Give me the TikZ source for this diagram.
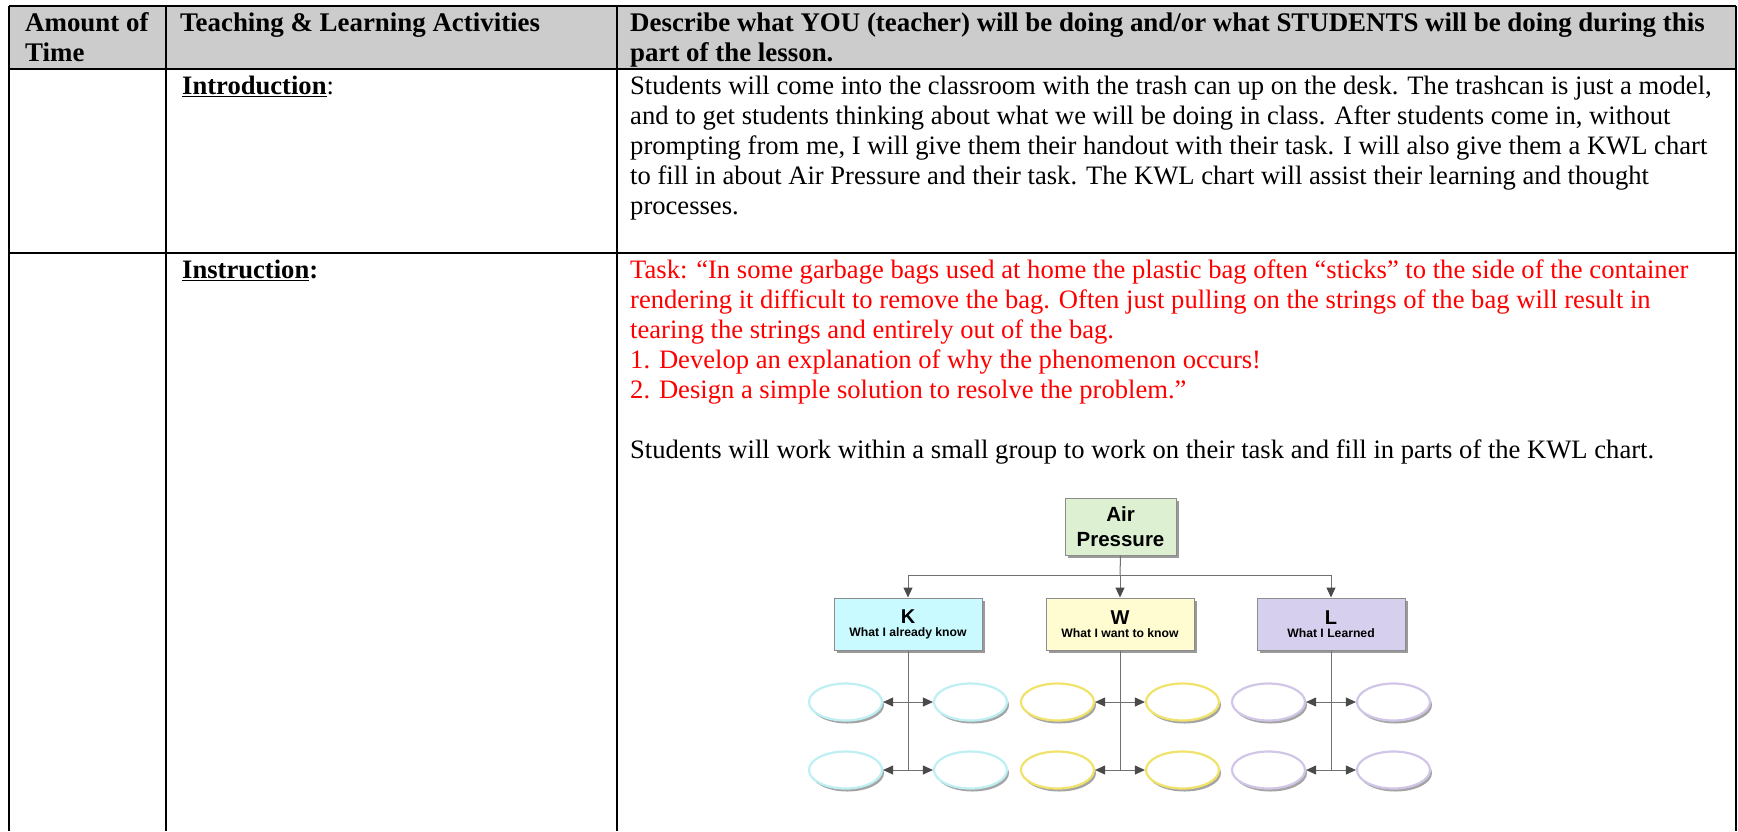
\documentclass[tikz,border=0pt]{standalone}
\usepackage{fontspec}
\setmainfont{Liberation Serif}[Ligatures=CommonOff]
\newfontfamily\diagfont{Liberation Sans}
\usetikzlibrary{arrows.meta,shapes.geometric,shadows}

\definecolor{headgrey}{HTML}{CCCCCC}
\definecolor{boxline}{HTML}{8C8C8C}
\definecolor{connline}{HTML}{707070}
\definecolor{tipgrey}{HTML}{4A4A4A}
\definecolor{airfill}{HTML}{DDF0D2}
\definecolor{kfill}{HTML}{C8FAFF}
\definecolor{wfill}{HTML}{FFFCD2}
\definecolor{lfill}{HTML}{D6D0EE}
\definecolor{kring}{HTML}{BDEFF3}
\definecolor{wring}{HTML}{F0E26A}
\definecolor{lring}{HTML}{D2C6E8}
\definecolor{shade}{HTML}{9A9A9A}

\tikzset{
  txt/.style={anchor=base west, inner sep=0pt, font=\fontsize{26.6}{30}\selectfont},
  htxt/.style={anchor=base west, inner sep=0pt, font=\fontsize{26.9}{30}\selectfont\bfseries},
  redtxt/.style={txt, text=red},
  rule/.style={line width=1.6pt, black},
  chartbox/.style={draw=boxline, line width=1pt, inner sep=0pt, align=center,
    font=\diagfont\bfseries,
    drop shadow={shadow xshift=3pt, shadow yshift=-3pt, fill=shade, opacity=1}},
  kwlbox/.style={chartbox, minimum width=148pt, minimum height=52pt},
  bubble/.style={ellipse, draw, line width=2.2pt, fill=white, inner sep=0pt,
    minimum width=73pt, minimum height=37pt,
    drop shadow={shadow xshift=2pt, shadow yshift=-3pt, fill=shade, opacity=0.9}},
  conn/.style={draw=connline, line width=1pt},
  tip/.style={conn, -{Triangle[width=9pt,length=10pt,fill=tipgrey,color=tipgrey]}},
  twotip/.style={conn, {Triangle[width=9pt,length=10pt,fill=tipgrey,color=tipgrey]}-{Triangle[width=9pt,length=10pt,fill=tipgrey,color=tipgrey]}},
}

\begin{document}
\begin{tikzpicture}[x=1pt,y=-1pt]
\useasboundingbox (0,0) rectangle (1738,831);

% table: header band and rules
\fill[headgrey] (9,6) rectangle (1736,69);
\draw[rule] (9,6) -- (1736,6);
\draw[rule] (9,69) -- (1736,69);
\draw[rule] (9,253) -- (1736,253);
\draw[rule] (9,6) -- (9,831);
\draw[rule] (166,6) -- (166,831);
\draw[rule] (617,6) -- (617,831);
\draw[rule] (1736,6) -- (1736,831);

% header
\node[htxt] (h1a) at (25,31) {Amount of};
\node[htxt] (h1b) at (25,61) {Time};
\node[htxt] (h2) at (180,31) {Teaching \& Learning Activities};
\node[htxt] (h3a) at (630,31) {Describe what YOU (teacher) will be doing and/or what STUDENTS will be doing during this};
\node[htxt] (h3b) at (630,61) {part of the lesson.};

% introduction row
\node[txt] (intro) at (182,94) {\textbf{\underline{Introduction}}:};
\node[txt] (ia) at (630,94) {Students will come into the classroom with the trash can up on the desk. The trashcan is just a model,};
\node[txt] (ib) at (630,124) {and to get students thinking about what we will be doing in class. After students come in, without};
\node[txt] (ic) at (630,154) {prompting from me, I will give them their handout with their task. I will also give them a KWL chart};
\node[txt] (id) at (630,184) {to fill in about Air Pressure and their task. The KWL chart will assist their learning and thought};
\node[txt] (ie) at (630,214) {processes.};

% instruction row
\node[txt] (instr) at (182,278) {\textbf{\underline{Instruction}:}};
\node[redtxt] (ra) at (630,278) {Task: “In some garbage bags used at home the plastic bag often “sticks” to the side of the container};
\node[redtxt] (rb) at (630,308) {rendering it difficult to remove the bag. Often just pulling on the strings of the bag will result in};
\node[redtxt] (rc) at (630,338) {tearing the strings and entirely out of the bag.};
\node[redtxt] (rd) at (630,368) {1. Develop an explanation of why the phenomenon occurs!};
\node[redtxt] (re) at (630,398) {2. Design a simple solution to resolve the problem.”};
\node[txt] (work) at (630,458) {Students will work within a small group to work on their task and fill in parts of the KWL chart.};

% KWL chart
\node[chartbox, fill=airfill, minimum width=111pt, minimum height=57pt,
      font=\diagfont\bfseries\fontsize{20.5}{25}\selectfont] (air) at (1120.5,526.5) {Air\\Pressure};

\node[kwlbox, fill=kfill] (K) at (908,624)
  {{\fontsize{20}{21}\selectfont K}\\[1pt]{\fontsize{12.2}{14}\selectfont What I already know}};
\node[kwlbox, fill=wfill] (W) at (1120,624)
  {{\fontsize{20}{21}\selectfont W}\\[1pt]{\fontsize{12.2}{14}\selectfont What I want to know}};
\node[kwlbox, fill=lfill] (L) at (1331,624)
  {{\fontsize{20}{21}\selectfont L}\\[1pt]{\fontsize{12.2}{14}\selectfont What I Learned}};

\coordinate (bus) at (1120,575);
\coordinate (busK) at (908,575);
\coordinate (busL) at (1331,575);
\draw[conn] (air.south) -- (bus);
\draw[conn] (busK) -- (busL);
\draw[tip] (busK) -- (K.north);
\draw[tip] (bus) -- (W.north);
\draw[tip] (busL) -- (L.north);

\coordinate (kEnd) at (908,770);
\coordinate (wEnd) at (1120,770);
\coordinate (lEnd) at (1331,770);
\draw[conn] (K.south) -- (kEnd);
\draw[conn] (W.south) -- (wEnd);
\draw[conn] (L.south) -- (lEnd);

\foreach \r/\y in {1/702, 2/770} {
  \node[bubble, draw=kring] (K\r a) at (845.5,\y) {};
  \node[bubble, draw=kring] (K\r b) at (970.5,\y) {};
  \node[bubble, draw=wring] (W\r a) at (1057.5,\y) {};
  \node[bubble, draw=wring] (W\r b) at (1182.5,\y) {};
  \node[bubble, draw=lring] (L\r a) at (1268.5,\y) {};
  \node[bubble, draw=lring] (L\r b) at (1393.5,\y) {};
  \draw[twotip] (K\r a.east) -- (K\r b.west);
  \draw[twotip] (W\r a.east) -- (W\r b.west);
  \draw[twotip] (L\r a.east) -- (L\r b.west);
}
\end{tikzpicture}
\end{document}
